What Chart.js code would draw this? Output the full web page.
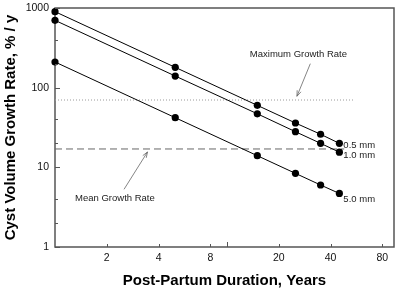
<!DOCTYPE html>
<html>
<head>
<meta charset="utf-8">
<script src="https://cdn.jsdelivr.net/npm/chart.js@4.4.1/dist/chart.umd.min.js"></script>
<style>
  html, body { margin: 0; padding: 0; background: #fff; }
</style>
</head>
<body>
<canvas id="chart" width="400" height="291"></canvas>
<script>
// data (log-log)
const years = [1, 5, 15, 25, 35, 45];
const rate05 = [900, 180, 60, 36, 26, 20];
const rate10 = [700, 140, 47, 28, 20, 15.5];
const rate50 = [210, 42, 14, 8.4, 6, 4.7];
const seriesNames = ['0.5 mm', '1.0 mm', '5.0 mm'];
const maxRate = 70;
const meanRate = 17;
const maxRateSpan = [1, 54];
const meanRateSpan = [1, 48];
const xTicks = [2, 4, 8, 10, 20, 40, 80];
const xLabels = [2, 4, 8, 20, 40, 80];
const yTicks = [1, 2, 4, 10, 20, 40, 100, 200, 400, 1000];
const yLabels = [1, 10, 100, 1000];

const FONT = "'Liberation Sans', Arial, sans-serif";
const AXIS = '#555';

// annotation placement, in data units
const notes = [
    { text: 'Maximum Growth Rate', at: [26, 260], from: [30.5, 200], to: [25.5, 78] },
    { text: 'Mean Growth Rate', at: [2.23, 4.1], from: [2.52, 5.3], to: [3.45, 15.6] }
];
const labelShift = [[4, 2], [4, 3], [4, 6]];

const pts = arr => years.map((x, i) => ({ x: x, y: arr[i] }));

const series = [rate05, rate10, rate50].map((arr, i) => ({
    label: seriesNames[i],
    data: pts(arr),
    showLine: true,
    clip: false,
    borderColor: '#000',
    borderWidth: 1,
    pointRadius: 3.6,
    pointBackgroundColor: '#000',
    pointBorderWidth: 0
}));

const refLines = [
    {
        label: 'Maximum Growth Rate',
        data: maxRateSpan.map(x => ({ x: x, y: maxRate })),
        showLine: true,
        borderColor: '#9a9a9a',
        borderWidth: 1,
        borderDash: [1, 2],
        pointRadius: 0
    },
    {
        label: 'Mean Growth Rate',
        data: meanRateSpan.map(x => ({ x: x, y: meanRate })),
        showLine: true,
        borderColor: '#666',
        borderWidth: 1,
        borderDash: [7, 4],
        pointRadius: 0
    }
];

const decor = {
    id: 'decor',
    beforeDatasetsDraw(chart) {
        const { ctx, chartArea: a } = chart;
        // frame
        ctx.save();
        ctx.strokeStyle = AXIS;
        ctx.lineWidth = 1.5;
        ctx.strokeRect(a.left, a.top, a.right - a.left, a.bottom - a.top);
        ctx.restore();
    },
    afterDatasetsDraw(chart) {
        const { ctx, chartArea: a, scales: { x, y } } = chart;
        ctx.save();

        // inward ticks
        ctx.strokeStyle = AXIS;
        ctx.lineWidth = 1;
        ctx.beginPath();
        xTicks.forEach(v => {
            const px = Math.round(x.getPixelForValue(v)) + 0.5;
            const len = v === 10 ? 5 : 3;
            ctx.moveTo(px, a.bottom);
            ctx.lineTo(px, a.bottom - len);
        });
        yTicks.forEach(v => {
            const py = Math.round(y.getPixelForValue(v)) + 0.5;
            const len = yLabels.includes(v) ? 5 : 3;
            ctx.moveTo(a.left, py);
            ctx.lineTo(a.left + len, py);
        });
        ctx.stroke();

        // notes with arrows
        ctx.font = '9.5px ' + FONT;
        ctx.fillStyle = '#222';
        ctx.textAlign = 'center';
        ctx.textBaseline = 'middle';
        ctx.strokeStyle = '#666';
        ctx.lineWidth = 0.8;
        notes.forEach(n => {
            ctx.fillText(n.text, x.getPixelForValue(n.at[0]), y.getPixelForValue(n.at[1]));
            const x1 = x.getPixelForValue(n.from[0]), y1 = y.getPixelForValue(n.from[1]);
            const x2 = x.getPixelForValue(n.to[0]), y2 = y.getPixelForValue(n.to[1]);
            const ang = Math.atan2(y2 - y1, x2 - x1);
            ctx.beginPath();
            ctx.moveTo(x1, y1);
            ctx.lineTo(x2, y2);
            ctx.moveTo(x2 - 6 * Math.cos(ang - 0.35), y2 - 6 * Math.sin(ang - 0.35));
            ctx.lineTo(x2, y2);
            ctx.lineTo(x2 - 6 * Math.cos(ang + 0.35), y2 - 6 * Math.sin(ang + 0.35));
            ctx.stroke();
        });

        // series end labels
        ctx.textAlign = 'left';
        series.forEach((ds, i) => {
            const last = ds.data[ds.data.length - 1];
            ctx.fillText(ds.label,
                x.getPixelForValue(last.x) + labelShift[i][0],
                y.getPixelForValue(last.y) + labelShift[i][1]);
        });
        ctx.restore();
    }
};

new Chart(document.getElementById('chart'), {
    type: 'scatter',
    data: { datasets: series.concat(refLines) },
    options: {
        responsive: false,
        animation: false,
        devicePixelRatio: 1,
        layout: { padding: { top: 8, right: 6, left: 0, bottom: 0 } },
        plugins: { legend: { display: false }, tooltip: { enabled: false } },
        scales: {
            x: {
                type: 'logarithmic',
                min: 1,
                max: 93.5,
                grid: { display: false, drawTicks: false },
                border: { display: false },
                afterBuildTicks: s => { s.ticks = xTicks.map(v => ({ value: v })); },
                afterFit: s => { s.height = 44; s.paddingLeft = 0; s.paddingRight = 0; },
                ticks: {
                    autoSkip: false,
                    maxRotation: 0,
                    padding: 5,
                    color: '#111',
                    font: { family: FONT, size: 10.5 },
                    callback: v => xLabels.includes(v) ? String(v) : ''
                },
                title: {
                    display: true,
                    text: 'Post-Partum Duration, Years',
                    color: '#000',
                    font: { family: FONT, size: 15, weight: 'bold' },
                    padding: { top: 0, bottom: 1 }
                }
            },
            y: {
                type: 'logarithmic',
                min: 1,
                max: 1000,
                grid: { display: false, drawTicks: false },
                border: { display: false },
                afterBuildTicks: s => { s.ticks = yTicks.map(v => ({ value: v })); },
                afterFit: s => { s.width = 55; s.paddingTop = 0; s.paddingBottom = 0; },
                ticks: {
                    autoSkip: false,
                    padding: 6,
                    color: '#111',
                    font: { family: FONT, size: 10.5 },
                    callback: v => yLabels.includes(v) ? String(v) : ''
                },
                title: {
                    display: true,
                    text: 'Cyst Volume Growth Rate, % / y',
                    color: '#000',
                    font: { family: FONT, size: 15, weight: 'bold' },
                    padding: { top: 2, bottom: 0 }
                }
            }
        }
    },
    plugins: [decor]
});
</script>
</body>
</html>
